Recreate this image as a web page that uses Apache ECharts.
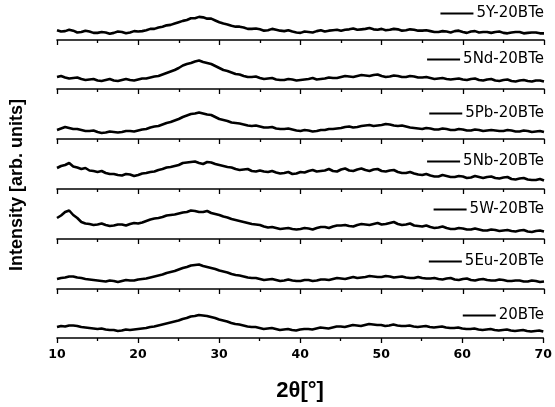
<!DOCTYPE html>
<html>
<head>
<meta charset="utf-8">
<script src="https://cdn.jsdelivr.net/npm/echarts@6/dist/echarts.min.js"></script>
<style>
html,body{margin:0;padding:0;background:#fff;}
#c{width:555px;height:407px;}
</style>
</head>
<body>
<div id="c"></div>
<script>
// sample names, top to bottom
var sampleNames = ['5Y-20BTe','5Nd-20BTe','5Pb-20BTe','5Nb-20BTe','5W-20BTe','5Eu-20BTe','20BTe'];

// 2θ sampling: from 10° to 70° every 0.5°
var angleStart = 10, angleStep = 0.5;

// intensities (arb. units), each row of 10 covers 5°
var y5Y = [
  11,9.5,10,11.5,10.5,8.5,9,10.5,9.5,8,
  8,9,8.5,7,8,9.5,9,7.5,8.5,10,
  9.5,10,11,12.5,12.5,14,15,16.5,17,18.5,
  20,21.5,22.5,24.5,24.5,26,25.5,24,24,22,
  20,18.5,17.5,16,15,15,14,12.5,12.5,13,
  12,10.5,11,12.5,11.5,10.5,10,11,9.5,8.5,
  8,9.5,9,8.5,10,11,9.5,10.5,11,11.5,
  10.5,11.5,12,13,11.5,12,12.5,13.5,12,11.5,
  12.5,11,11.5,12.5,12,10.5,11,12,11.5,10.5,
  10.5,11,10,9,9,10,9.5,8.5,10,10.5,
  9,8,9.5,10,8.5,9,9,8,9,9.5,
  8,7.5,8.5,9,9,7.5,8,8.5,8.5,7.5,
  7.5];
var y5Nd = [
  12,13,11.5,10.5,11,11.5,10,9,9.5,10,
  8.5,8,9,10,8.5,8,9,10,9,8.5,
  9.5,10.5,10.5,11.5,12.5,13,14.5,16,17.5,19,
  21,23.5,25,26,27.5,28.5,27,26,25,23,
  21,19,18,16.5,15,14.5,13,12,12,12.5,
  11,10,10.5,11,9.5,9,9,10,9.5,8.5,
  9,9.5,10,11,9.5,10,10.5,11.5,11,11,
  12,13,12.5,12,13,14,13.5,13,14,14.5,
  13,12,12.5,13.5,13,12,12,13,12.5,11.5,
  11.5,12,11,10,10.5,11,10,9.5,10,10.5,
  9.5,9,10,10.5,9,8.5,9.5,10,8.5,8,
  9,9.5,8,7.5,8.5,9,8,7.5,8.5,8.5,
  7.5];
var y5Pb = [
  9,10.5,12,11,10,10,9,8,8,8.5,
  7,6,6.5,7.5,7,6.5,7,8,8,7.5,
  8.5,9.5,10,11.5,12.5,13,14.5,16,17,18.5,
  20,22,23.5,25,25.5,26.5,25.5,24.5,24,22,
  20,19,18,16.5,16,15.5,14.5,13.5,13,13.5,
  12.5,11.5,11.5,12,10.5,10,10,10.5,9.5,8.5,
  8,9,8.5,7.5,8,9,9,10,10,10.5,
  11,12,12.5,11.5,12,13,13.5,14,13,13.5,
  14,15,14.5,13.5,13,13.5,12.5,11.5,11,10.5,
  10,11,10.5,9.5,9.5,10.5,10,9,9,10,
  9.5,8.5,8.5,9.5,9,8,8.5,9,8.5,8,
  8,9,8.5,7.5,7.5,8.5,8,7,7.5,8,
  7];
var y5Nb = [
  21,23,24,26,22.5,21.5,20,21,18.5,18,
  17,18,16,15,15,14,13.5,15,14.5,13,
  14,15.5,16,17,17.5,19,20,21.5,22,23,
  24,26,26.5,27,27.5,26,25,27,26.5,25,
  24,23,22,21.5,20,19,19.5,20,18,17.5,
  18.5,17.5,17,18,16.5,15.5,16,17,15,15.5,
  17,16.5,18,19,17.5,18,18.5,20,18,17.5,
  19.5,20.5,18.5,18,19.5,20.5,19,18,19.5,20,
  18,17.5,18.5,19,17,16,16,17,15.5,14.5,
  14,15,13.5,12.5,12.5,14,13,12,12,13,
  12.5,11,11.5,13,12,11,12,12.5,11,10.5,
  11.5,12,10,9.5,10.5,11,9.5,9,9,10,
  8.5];
var y5W = [
  21,23.5,27,28.5,24,21,17,15.5,15,14,
  14.5,15.5,14,13,13.5,14.5,14.5,13.5,15,16,
  15.5,16.5,18,19.5,20.5,21,22,23.5,24,24.5,
  25.5,26.5,27,28.5,28,27,27,28,26,25,
  24,22.5,21.5,20,19,18,17,16,15,14.5,
  14,12.5,11.5,12,11,10,10.5,11,10,9.5,
  10,11,10.5,9.5,11,12,12,11,12.5,13.5,
  13.5,14,13,12.5,14,15,14.5,14,15,16,
  14.5,15,16,17,15,14,14.5,15.5,13.5,13,
  12.5,13.5,12,11,11.5,12.5,11,10,10,11,
  10.5,9.5,9.5,10.5,9.5,8.5,8.5,9.5,9,8,
  8.5,9,8,7.5,8.5,9,7.5,7,8,8.5,
  7.5];
var y5Eu = [
  10,11,11.5,12.5,12.5,11.5,11,10,9.5,9,
  8.5,8,7.5,8.5,8,7,8,9,8.5,8.5,
  9.5,10,10.5,11.5,12.5,13.5,14.5,16,17,18,
  19.5,21,22,23.5,24,24.5,23,22,21,20,
  18.5,17.5,16.5,15,14,13.5,12.5,11.5,11,11,
  10,9,9.5,10,9,8,8.5,9.5,8.5,8,
  8,9,9,8,8.5,9.5,9.5,9,10,11,
  10.5,10,11,12,11,11.5,12,13,12.5,12,
  12,13,12.5,11.5,12,12.5,11.5,11,11,12,
  11,10.5,10.5,11,10,9.5,10.5,11,9.5,9,
  10,10.5,9,8.5,9.5,10,9,8.5,8.5,9.5,
  9,8,8,8.5,8.5,7.5,7.5,8.5,8,7,
  7.5];
var y20BTe = [
  11,12,11.5,12.5,12.5,12,11,10.5,10,9.5,
  9,9.5,8.5,8,8,7,7.5,8.5,8,8.5,
  9,9.5,10,11,11.5,12.5,13.5,14.5,15.5,16.5,
  17.5,19,20,21.5,22,23,22.5,22,21,20,
  18.5,17.5,16.5,15,14,13.5,12.5,11.5,11,11,
  10,9,9.5,10,9,8,8.5,9,8,7.5,
  8.5,9,9,8.5,9.5,10.5,10,9.5,10.5,11.5,
  11.5,11,12,13,12.5,12,13,14,13.5,13,
  13,12,12.5,13.5,12.5,12,12,12.5,11.5,11,
  11.5,12,11,10.5,11,11.5,10.5,10,10,10.5,
  9.5,9,9,9.5,8.5,8,8.5,9,8,7.5,
  8,8.5,7.5,7,7.5,8,7,6.5,7,7.5,
  6.5];

var seriesValues = [y5Y, y5Nd, y5Pb, y5Nb, y5W, y5Eu, y20BTe];

// x tick range
var xMin = 10, xMax = 70, xStep = 10;

// layout
var axisY = [40, 89, 139, 189, 239, 289, 338];
var labelY = [15, 61, 115, 163, 211, 263, 317];
var panelH = 45;
var FONT = 'Liberation Sans, Arial, sans-serif';
var WIDE = 'DejaVu Sans, sans-serif';

var grids = [], xAxes = [], yAxes = [], series = [], legends = [];
for (var i = 0; i < 7; i++) {
  var last = (i === 6);
  grids.push({left: 57, right: 11, top: axisY[i] - panelH, height: panelH});
  xAxes.push({
    type: 'value', gridIndex: i, min: xMin, max: xMax, interval: xStep,
    axisLine: {show: true, onZero: false, lineStyle: {color: '#000', width: 1.6}},
    axisTick: {show: true, length: 5, lineStyle: {color: '#000', width: 1.3}},
    minorTick: {show: true, splitNumber: 2, length: 3, lineStyle: {color: '#000', width: 1.3}},
    splitLine: {show: false},
    axisLabel: {show: last, color: '#000', fontWeight: 'bold', fontSize: 12.5, fontFamily: WIDE, margin: 10},
    name: last ? '2θ[°]' : '',
    nameLocation: 'middle', nameGap: 42,
    nameTextStyle: {color: '#000', fontWeight: 'bold', fontSize: 22, fontFamily: FONT}
  });
  yAxes.push({type: 'value', gridIndex: i, min: 0, max: panelH, show: false});
  var pts = [];
  var vals = seriesValues[i];
  for (var k = 0; k < vals.length; k++) pts.push([angleStart + angleStep * k, vals[k]]);
  series.push({
    name: sampleNames[i], type: 'line', xAxisIndex: i, yAxisIndex: i,
    showSymbol: false, symbol: 'none', animation: false,
    lineStyle: {color: '#000', width: 2.6}, itemStyle: {color: '#000'},
    data: pts
  });
  legends.push({
    data: [sampleNames[i]], right: 11, top: labelY[i] - 9, padding: 0,
    icon: 'rect', itemWidth: 33, itemHeight: 2,
    selectedMode: false,
    textStyle: {color: '#000', fontSize: 15, fontFamily: WIDE, padding: [0, 0, 0, -2]}
  });
}
// extra grid only for the shared y-axis title
grids.push({left: 57, right: 11, top: 90, height: 190});
xAxes.push({type: 'value', gridIndex: 7, show: false, min: 0, max: 1});
yAxes.push({
  type: 'value', gridIndex: 7, min: 0, max: 1,
  axisLine: {show: false}, axisTick: {show: false}, axisLabel: {show: false}, splitLine: {show: false},
  name: 'Intensity [arb. units]', nameLocation: 'middle', nameGap: 31, nameRotate: 90,
  nameTextStyle: {color: '#000', fontWeight: 'bold', fontSize: 18, fontFamily: FONT}
});

var chart = echarts.init(document.getElementById('c'));
chart.setOption({
  backgroundColor: '#fff',
  animation: false,
  legend: legends,
  grid: grids,
  xAxis: xAxes,
  yAxis: yAxes,
  series: series
});
</script>
</body>
</html>
